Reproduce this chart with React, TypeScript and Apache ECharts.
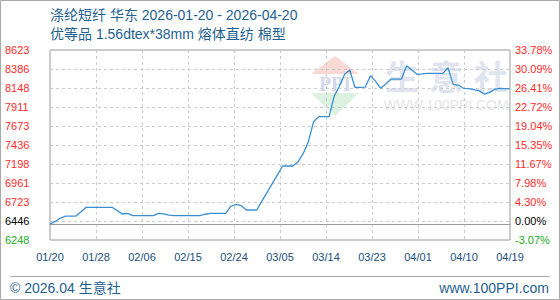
import React, { useEffect, useRef } from "react";
import * as echarts from "echarts";

// Daily prices 2026-01-20 .. 2026-04-19
const prices: number[] = [
  6446, 6480, 6520, 6546, 6546, 6548, 6600, 6657, 6657, 6657,
  6657, 6657, 6657, 6615, 6573, 6581, 6552, 6552, 6552, 6552,
  6552, 6581, 6575, 6560, 6552, 6552, 6552, 6552, 6552, 6552,
  6570, 6581, 6581, 6581, 6581, 6670, 6694, 6677, 6623, 6623,
  6623, 6733, 6843, 6953, 7063, 7173, 7173, 7173, 7227, 7330,
  7480, 7727, 7790, 7790, 7790, 8050, 8170, 8320, 8373, 8157,
  8157, 8160, 8302, 8230, 8144, 8200, 8260, 8260, 8260, 8427,
  8373, 8320, 8325, 8331, 8331, 8331, 8331, 8401, 8194, 8185,
  8144, 8140, 8128, 8115, 8073, 8090, 8130, 8144, 8140, 8136,
];
const baseValue = 6446;
const xTickLabels: string[] = ["01/20", "01/28", "02/06", "02/15", "02/24", "03/05", "03/14", "03/23", "04/01", "04/10", "04/19"];
const yTickValues: number[] = [6248, 6485.5, 6723, 6960.5, 7198, 7435.5, 7673, 7910.5, 8148, 8385.5, 8623];
const yPriceLabels: string[] = ["6248", "6446", "6723", "6961", "7198", "7436", "7673", "7911", "8148", "8386", "8623"];
const yPctLabels: string[] = ["-3.07%", "0.00%", "4.30%", "7.98%", "11.67%", "15.35%", "19.04%", "22.72%", "26.41%", "30.09%", "33.78%"];
const titleLine1 = "涤纶短纤 华东 2026-01-20 - 2026-04-20";
const titleLine2 = "优等品 1.56dtex*38mm 熔体直纺 棉型";
const footerLeft = "© 2026.04 生意社";
const footerRight = "www.100PPI.com";
const watermarkChars: string[] = ["生", "意", "社"];

const NUM_FONT = "'Liberation Sans', Arial, sans-serif";
const CJK_FONT = "'Liberation Sans', 'Noto Sans CJK SC', sans-serif";
const BLUE_TEXT = "#1f5f91";

function tickIndex(v: number): number {
  let best = 0;
  for (let i = 0; i < yTickValues.length; i++) {
    if (Math.abs(yTickValues[i] - v) < Math.abs(yTickValues[best] - v)) best = i;
  }
  return best;
}
function styleKey(i: number): string {
  return i === 0 ? "g" : i === 1 ? "k" : "r";
}
const rich = {
  g: { color: "#22aa22", fontFamily: NUM_FONT, fontSize: 11 },
  k: { color: "#000000", fontFamily: NUM_FONT, fontSize: 11 },
  r: { color: "#ff2a2a", fontFamily: NUM_FONT, fontSize: 11 },
};

export default function App() {
  const ref = useRef<HTMLDivElement>(null);
  useEffect(() => {
    document.body.style.margin = "0";
    if (!ref.current) return;
    const chart = echarts.init(ref.current, undefined, { renderer: "svg" });
    const xStep = (prices.length - 1) / (xTickLabels.length - 1);
    const gridLines = yTickValues.slice(1, yTickValues.length - 1).map((v) => ({
      yAxis: v,
      lineStyle: { color: "#cccccc", type: [3, 3] as any, width: 1 },
    }));
    const wmX = [402, 446, 491];
    chart.setOption({
      animation: false,
      backgroundColor: "#ffffff",
      grid: {
        left: 50, right: 50, top: 50, bottom: 60,
        show: true, borderColor: "#999999", borderWidth: 1, backgroundColor: "transparent",
      },
      xAxis: {
        type: "value",
        min: 0,
        max: prices.length - 1,
        interval: xStep,
        axisLine: { show: false },
        axisTick: { show: false },
        axisLabel: {
          margin: 11,
          color: "#1a4f7a",
          fontFamily: NUM_FONT,
          fontSize: 11,
          formatter: (v: number) => xTickLabels[Math.round(v / xStep)] ?? "",
        },
        splitLine: { show: true, lineStyle: { color: "#cccccc", type: [3, 3], width: 1 } },
      },
      yAxis: [
        {
          type: "value",
          position: "left",
          min: yTickValues[0],
          max: yTickValues[yTickValues.length - 1],
          axisLine: { show: false },
          axisTick: { show: false, customValues: yTickValues },
          splitLine: { show: false },
          axisLabel: {
            customValues: yTickValues,
            align: "left",
            margin: 45,
            formatter: (v: number) => {
              const i = tickIndex(v);
              return `{${styleKey(i)}|${yPriceLabels[i]}}`;
            },
            rich,
          },
        },
        {
          type: "value",
          position: "right",
          min: yTickValues[0],
          max: yTickValues[yTickValues.length - 1],
          axisLine: { show: false },
          axisTick: { show: false, customValues: yTickValues },
          splitLine: { show: false },
          axisLabel: {
            customValues: yTickValues,
            margin: 5,
            formatter: (v: number) => {
              const i = tickIndex(v);
              return `{${styleKey(i)}|${yPctLabels[i]}}`;
            },
            rich,
          },
        },
      ],
      series: [
        {
          type: "line",
          z: 5,
          yAxisIndex: 0,
          data: prices.map((p, i) => [i, p]),
          showSymbol: false,
          symbol: "none",
          lineStyle: { color: "#3a8fd3", width: 1.3 },
          markLine: {
            silent: true,
            symbol: "none",
            label: { show: false },
            z: 1,
            data: [
              ...gridLines,
              { yAxis: baseValue, lineStyle: { color: "#999999", type: "solid", width: 1 } },
            ],
          },
        },
      ],
      graphic: [
        // outer frame
        { type: "rect", z: 0, shape: { x: 0.5, y: 0.5, width: 559, height: 299 }, style: { fill: "none", stroke: "#aaaaaa", lineWidth: 1 } },
        // titles
        { type: "text", x: 50, y: 15, style: { text: titleLine1, fill: BLUE_TEXT, font: `14px ${CJK_FONT}`, verticalAlign: "middle" } },
        { type: "text", x: 50, y: 34, style: { text: titleLine2, fill: BLUE_TEXT, font: `14px ${CJK_FONT}`, verticalAlign: "middle" } },
        // watermark
        { type: "polygon", z: -1, shape: { points: [[335, 56], [311, 74], [359, 74]] }, style: { fill: "#f9d9d3" } },
        { type: "text", z: -1, x: 335, y: 84, style: { text: "PPI", fill: "#d3d9e8", font: "bold 20px 'Liberation Serif', serif", align: "center", verticalAlign: "middle" } },
        { type: "polygon", z: -1, shape: { points: [[311, 93], [359, 93], [335, 116]] }, style: { fill: "#dcf1df" } },
        ...watermarkChars.map((c, i) => ({
          type: "text", z: -1, x: wmX[i], y: 75,
          style: { text: c, fill: "#e0e4ee", font: "bold 34px 'Noto Sans CJK SC', sans-serif", align: "center", verticalAlign: "middle" },
        })),
        { type: "text", z: -1, x: 446, y: 105, style: { text: "WWW.100PPI.COM", fill: "#e6e6e6", font: "14px 'Liberation Sans', sans-serif", align: "center", verticalAlign: "middle" } },
        // footer
        { type: "line", shape: { x1: 10, y1: 276.5, x2: 550, y2: 276.5 }, style: { stroke: "#aaaaaa", lineWidth: 1 } },
        { type: "text", x: 10, y: 288, style: { text: footerLeft, fill: BLUE_TEXT, font: `14px ${CJK_FONT}`, verticalAlign: "middle" } },
        { type: "text", x: 549, y: 288, style: { text: footerRight, fill: BLUE_TEXT, font: `14px ${NUM_FONT}`, align: "right", verticalAlign: "middle" } },
      ],
    });
    return () => chart.dispose();
  }, []);
  return <div ref={ref} style={{ width: 560, height: 300 }} />;
}
